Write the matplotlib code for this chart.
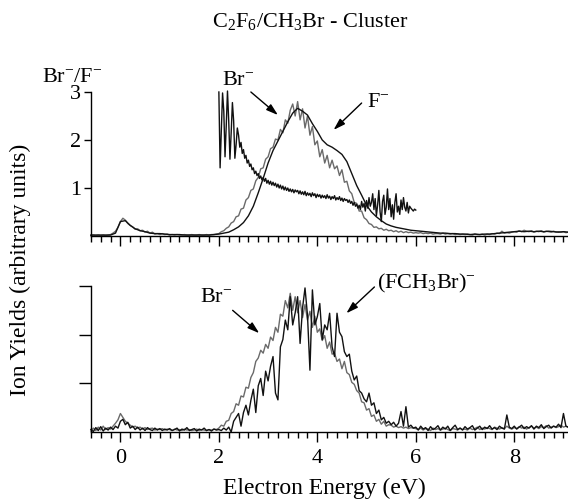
import numpy as np
import matplotlib
matplotlib.use("Agg")
import matplotlib.pyplot as plt
from matplotlib.ticker import MultipleLocator

plt.rcParams["font.family"] = ["Liberation Serif", "DejaVu Serif"]
plt.rcParams["mathtext.fontset"] = "custom"
plt.rcParams["mathtext.rm"] = "Liberation Serif"
plt.rcParams["mathtext.it"] = "Liberation Serif:italic"
plt.rcParams["mathtext.bf"] = "Liberation Serif:bold"

# ---------------------------------------------------------------- data
# Upper panel: F- yield (0.1 eV steps from -0.6 eV)
f_top_start, f_top_step = -0.6, 0.1
f_top = [
    0.02, 0.02, 0.02, 0.02, 0.02, 0.06, 0.30, 0.32, 0.22, 0.15,
    0.11, 0.09, 0.06, 0.05, 0.05, 0.04, 0.03, 0.03, 0.03, 0.02,
    0.02, 0.02, 0.02, 0.02, 0.02, 0.03, 0.04, 0.06, 0.08, 0.13,
    0.19, 0.28, 0.42, 0.62, 0.90, 1.20, 1.52, 1.78, 1.98, 2.18,
    2.38, 2.56, 2.66, 2.60, 2.52, 2.34, 2.18, 2.00, 1.90, 1.85,
    1.78, 1.70, 1.55, 1.30, 1.05, 0.85, 0.64, 0.50, 0.40, 0.32,
    0.25, 0.21, 0.18, 0.16, 0.14, 0.12, 0.11, 0.10, 0.09, 0.08,
    0.07, 0.06, 0.06, 0.05, 0.05, 0.04, 0.04, 0.03, 0.04, 0.03,
    0.04, 0.04, 0.05, 0.06, 0.07, 0.08, 0.09, 0.10, 0.09, 0.10,
    0.09, 0.10, 0.09, 0.10, 0.09, 0.08, 0.09, 0.08,
]

# Upper panel: Br- yield (0.05 eV steps from -0.6 eV)
br_top_start, br_top_step = -0.6, 0.05
br_top = [
    0.01, 0.02, 0.01, 0.02, 0.01, 0.02, 0.01, 0.02, 0.03,
    0.06, 0.10, 0.18, 0.30, 0.37, 0.33, 0.26, 0.22, 0.19, 0.14,
    0.15, 0.11, 0.12, 0.08, 0.10, 0.06, 0.08, 0.04, 0.05, 0.03,
    0.05, 0.03, 0.04,
    0.02, 0.03, 0.02, 0.03, 0.02, 0.02, 0.03, 0.02, 0.02, 0.03,
    0.02, 0.02, 0.03, 0.02, 0.02, 0.03, 0.02, 0.03, 0.03, 0.04,
    0.05, 0.09, 0.11, 0.16, 0.19, 0.27, 0.30, 0.40, 0.42, 0.56,
    0.58, 0.75, 0.80, 0.95, 0.98, 1.15, 1.22, 1.40, 1.42, 1.60,
    1.65, 1.82, 1.85, 2.02, 2.00, 2.22, 2.15, 2.42, 2.35, 2.62,
    2.75, 2.50, 2.80, 2.42, 2.65, 2.25, 2.50, 2.10, 2.28, 1.90,
    1.98, 1.65, 1.80, 1.52, 1.68, 1.42, 1.58, 1.40, 1.46, 1.26,
    1.38, 1.12, 1.14, 0.94, 0.88, 0.70, 0.68, 0.52, 0.52, 0.38,
    0.34, 0.26, 0.24, 0.18, 0.19, 0.15, 0.16, 0.12, 0.14, 0.11,
    0.12, 0.09, 0.11, 0.08, 0.10, 0.07, 0.09, 0.07, 0.08, 0.06,
    0.07, 0.06, 0.07, 0.05, 0.06, 0.05, 0.06, 0.04, 0.05, 0.05,
    0.04, 0.06, 0.04, 0.05, 0.04, 0.05, 0.03, 0.04, 0.03, 0.04,
    0.03, 0.04, 0.03, 0.02, 0.04, 0.03, 0.03, 0.04, 0.02, 0.04,
    0.03, 0.05, 0.04, 0.06, 0.05, 0.10, 0.06, 0.07, 0.06, 0.08,
    0.09, 0.08, 0.11, 0.09, 0.12, 0.10, 0.09, 0.11, 0.08, 0.10,
    0.09, 0.11, 0.08, 0.10, 0.09, 0.08, 0.10, 0.08, 0.09, 0.08,
    0.09, 0.07, 0.08, 0.07,
]

# Upper panel: Br-/F- ratio (0.025 eV steps from 2.0 eV)
ratio_start, ratio_step = 2.0, 0.025
ratio = [
    3.00, 1.42, 2.20, 2.98, 2.60, 1.65, 2.30, 3.02, 2.40, 1.60,
    2.15, 2.78, 2.40, 1.62, 1.90, 2.25, 2.10, 1.85, 1.95, 1.72,
    1.80, 1.62, 1.68, 1.52,
    1.58, 1.45, 1.50, 1.38, 1.42, 1.30, 1.35, 1.26, 1.30, 1.20,
    1.25, 1.17, 1.22, 1.14, 1.20, 1.10, 1.16, 1.08, 1.14, 1.06,
    1.12, 1.05, 1.10, 1.02, 1.08, 1.00, 1.06, 0.98, 1.04, 0.96,
    1.02, 0.95, 1.00, 0.93, 0.98, 0.92, 0.97, 0.90, 0.96, 0.92,
    0.95, 0.88, 0.94, 0.87, 0.92, 0.86, 0.93, 0.84, 0.90, 0.85,
    0.89, 0.82, 0.90, 0.84, 0.88, 0.80, 0.87, 0.82, 0.86, 0.79,
    0.85, 0.80, 0.84, 0.78, 0.86, 0.79, 0.83, 0.76, 0.82, 0.78,
    0.84, 0.75, 0.80, 0.76, 0.82, 0.74, 0.79, 0.72, 0.78, 0.74,
    0.76, 0.70, 0.75, 0.68, 0.72, 0.64, 0.70, 0.62, 0.66, 0.58,
    0.64, 0.55, 0.72, 0.60, 0.68, 0.52, 0.74, 0.58, 0.80, 0.62,
    0.70, 0.88, 0.55, 0.78, 0.42, 0.65, 0.95, 0.50, 0.30, 0.72,
    0.85, 0.45, 0.60, 0.98, 0.55, 0.78, 0.40, 0.65, 0.35, 0.70,
    0.88, 0.50, 0.62, 0.45, 0.75, 0.55, 0.80, 0.60, 0.52, 0.70,
    0.48, 0.62, 0.58, 0.55, 0.52, 0.56,
    0.54,
]

# Lower panel: Br- and (FCH3Br)- yields (0.05 eV steps from -0.6 eV)
low_start, low_step = -0.6, 0.05
br_low = [
    0.02, 0.08, 0.03, 0.10, 0.04, 0.12, 0.05, 0.09, 0.06,
    0.12, 0.18, 0.25, 0.38, 0.30, 0.22, 0.18, 0.14, 0.10, 0.12,
    0.08, 0.10, 0.06, 0.09, 0.05, 0.07, 0.08, 0.04, 0.06, 0.05,
    0.07, 0.04, 0.06,
    0.05, 0.03, 0.06, 0.04, 0.05, 0.03, 0.06, 0.04, 0.05, 0.03,
    0.04, 0.06, 0.03, 0.05, 0.04, 0.03, 0.05, 0.04, 0.06, 0.05,
    0.08, 0.14, 0.12, 0.22, 0.24, 0.38, 0.42, 0.58, 0.55, 0.74,
    0.72, 0.92, 0.90, 1.12, 1.22, 1.45, 1.52, 1.68, 1.62, 1.80,
    1.72, 1.95, 1.88, 2.15, 2.05, 2.42, 2.38, 2.70, 2.55, 2.85,
    2.50, 2.78, 2.45, 2.70, 2.35, 2.62, 2.30, 2.48, 2.15, 2.38,
    2.05, 2.12, 1.88, 1.98, 1.72, 1.85, 1.60, 1.62, 1.45, 1.50,
    1.30, 1.45, 1.22, 1.18, 1.02, 0.98, 0.85, 0.80, 0.62, 0.60,
    0.45, 0.48, 0.32, 0.35, 0.22, 0.26, 0.16, 0.22, 0.12, 0.15,
    0.14, 0.10, 0.12, 0.09, 0.11, 0.08, 0.10, 0.07, 0.09, 0.08,
    0.07, 0.05, 0.08, 0.04, 0.07, 0.06, 0.03, 0.08, 0.05, 0.07,
    0.04, 0.06, 0.08, 0.05, 0.03, 0.07, 0.06, 0.04, 0.08, 0.05,
    0.06, 0.04, 0.08, 0.05, 0.07, 0.10, 0.05, 0.08, 0.06, 0.09,
    0.07, 0.05, 0.10, 0.08, 0.06, 0.09, 0.07, 0.12, 0.08, 0.06,
    0.09, 0.07, 0.11, 0.08, 0.10, 0.06, 0.09, 0.12, 0.08, 0.10,
    0.07, 0.11, 0.09, 0.13, 0.08, 0.10, 0.12, 0.09, 0.11, 0.14,
    0.10, 0.12, 0.09, 0.11,
]
fch3br_low = [
    0.05, 0.01, 0.09, 0.03, 0.11, 0.02, 0.08, 0.04, 0.10,
    0.05, 0.12, 0.08, 0.22, 0.26, 0.15, 0.20, 0.08, 0.12, 0.05,
    0.10, 0.04, 0.08, 0.03, 0.09, 0.05, 0.03, 0.08, 0.04, 0.07,
    0.03, 0.06, 0.04,
    0.07, 0.03, 0.05, 0.08, 0.02, 0.06, 0.04, 0.09, 0.03, 0.05,
    0.07, 0.02, 0.06, 0.04, 0.08, 0.03, 0.05, 0.02, 0.06, 0.04,
    0.05, 0.03, 0.08, 0.04, 0.10, 0.00, 0.22, 0.30, 0.38, 0.12,
    0.40, 0.55, 0.35, 0.65, 0.88, 0.40, 0.95, 1.10, 0.75, 1.25,
    1.05, 1.35, 1.55, 0.80, 0.66, 1.75, 1.90, 2.30, 2.10, 2.78,
    2.20, 2.45, 2.78, 1.82, 2.55, 2.96, 2.40, 1.27, 2.92, 2.20,
    2.37, 2.64, 1.90, 2.20, 2.10, 2.44, 1.75, 1.55, 2.44, 2.05,
    1.96, 1.65, 1.55, 1.60, 1.25, 1.07, 1.15, 0.85, 0.80, 0.68,
    0.62, 0.80, 0.55, 0.60, 0.38, 0.45, 0.25, 0.30, 0.18, 0.22,
    0.15, 0.20, 0.12, 0.18, 0.42, 0.12, 0.52, 0.10, 0.14, 0.08,
    0.10, 0.04, 0.12, 0.06, 0.09, 0.03, 0.11, 0.05, 0.08, 0.13,
    0.04, 0.10, 0.06, 0.12, 0.03, 0.09, 0.14, 0.05, 0.08, 0.04,
    0.11, 0.06, 0.09, 0.13, 0.04, 0.08, 0.12, 0.05, 0.10, 0.07,
    0.13, 0.06, 0.09, 0.05, 0.12, 0.08, 0.06, 0.35, 0.10, 0.07,
    0.12, 0.06, 0.10, 0.14, 0.07, 0.11, 0.08, 0.13, 0.06, 0.12,
    0.09, 0.15, 0.07, 0.11, 0.14, 0.08, 0.12, 0.10, 0.16, 0.09,
    0.38, 0.12, 0.10, 0.13,
]

x_ticks = [0, 2, 4, 6, 8]
y_ticks = [1, 2, 3]
y_tick_labels_top = ["1", "2", "3"]


def energies(start, step, values):
    return np.round(start + step * np.arange(len(values)), 3)


GRAY = "#6a6a6a"
BLACK = "#111111"
LW = 1.0

fig = plt.figure(figsize=(5.68, 5.0), dpi=100)
ax_top = fig.add_axes([0.160, 0.528, 0.845, 0.288])
ax_bot = fig.add_axes([0.160, 0.136, 0.845, 0.292])

# upper panel curves
ax_top.plot(energies(br_top_start, br_top_step, br_top), br_top,
            color=GRAY, lw=LW, clip_on=False)
ax_top.plot(energies(f_top_start, f_top_step, f_top), f_top,
            color=BLACK, lw=LW, clip_on=False)
ax_top.plot(energies(ratio_start, ratio_step, ratio), ratio,
            color=BLACK, lw=LW, clip_on=False)

# lower panel curves
ax_bot.plot(energies(low_start, low_step, br_low), br_low,
            color=GRAY, lw=LW, clip_on=False)
ax_bot.plot(energies(low_start, low_step, fch3br_low), fch3br_low,
            color=BLACK, lw=LW, clip_on=False)

for ax in (ax_top, ax_bot):
    ax.set_xlim(-0.6, 9.15)
    ax.set_ylim(0, 3)
    ax.spines["top"].set_visible(False)
    ax.spines["right"].set_visible(False)
    for s in ("left", "bottom"):
        ax.spines[s].set_linewidth(1.0)
    ax.set_xticks(x_ticks)
    ax.xaxis.set_minor_locator(MultipleLocator(0.2))
    ax.tick_params(axis="x", which="major", direction="out", length=7,
                   width=1.0, labelsize=16, pad=5)
    ax.tick_params(axis="x", which="minor", direction="out", length=4,
                   width=1.0)
    ax.set_yticks(y_ticks)
    ax.patch.set_alpha(0)

ax_top.tick_params(axis="x", labelbottom=False)
ax_top.set_yticklabels(y_tick_labels_top)
ax_top.tick_params(axis="y", direction="out", length=5, width=1.0,
                   labelsize=16, pad=2)
ax_bot.set_yticklabels([])
ax_bot.tick_params(axis="y", direction="out", length=9, width=1.0)

arrow = dict(arrowstyle="-|>,head_length=0.7,head_width=0.22",
             color="black", lw=1.0, shrinkA=0, shrinkB=0)

# upper annotations
ax_top.text(2.39, 3.23, r"Br$^{-}$", fontsize=16, ha="center",
            va="center", clip_on=False)
ax_top.annotate("", xy=(3.2, 2.52), xytext=(2.65, 3.0),
                arrowprops=arrow, annotation_clip=False)
ax_top.text(5.24, 2.79, r"F$^{-}$", fontsize=16, ha="center",
            va="center", clip_on=False)
ax_top.annotate("", xy=(4.33, 2.21), xytext=(4.9, 2.77),
                arrowprops=arrow, annotation_clip=False)

# lower annotations
ax_bot.text(1.94, 2.77, r"Br$^{-}$", fontsize=16, ha="center",
            va="center", clip_on=False)
ax_bot.annotate("", xy=(2.82, 2.03), xytext=(2.28, 2.5),
                arrowprops=arrow, annotation_clip=False)
ax_bot.text(6.22, 3.06, r"(FCH$_3$Br)$^{-}$", fontsize=16, ha="center",
            va="center", clip_on=False)
ax_bot.annotate("", xy=(4.59, 2.44), xytext=(5.16, 2.98),
                arrowprops=arrow, annotation_clip=False)

# figure texts
fig.text(310 / 568, 1 - 22 / 500, r"C$_2$F$_6$/CH$_3$Br - Cluster",
         fontsize=16, ha="center", va="center")
fig.text(72 / 568, 1 - 77 / 500, r"Br$^{-}$/F$^{-}$", fontsize=16,
         ha="center", va="center")
fig.text(20 / 568, 1 - 270 / 500, "Ion Yields (arbitrary units)",
         fontsize=17, ha="center", va="center", rotation=90)
fig.text(324 / 568, 1 - 488 / 500, "Electron Energy (eV)", fontsize=17,
         ha="center", va="center")

fig.savefig("out.png", dpi=100, facecolor="white")
